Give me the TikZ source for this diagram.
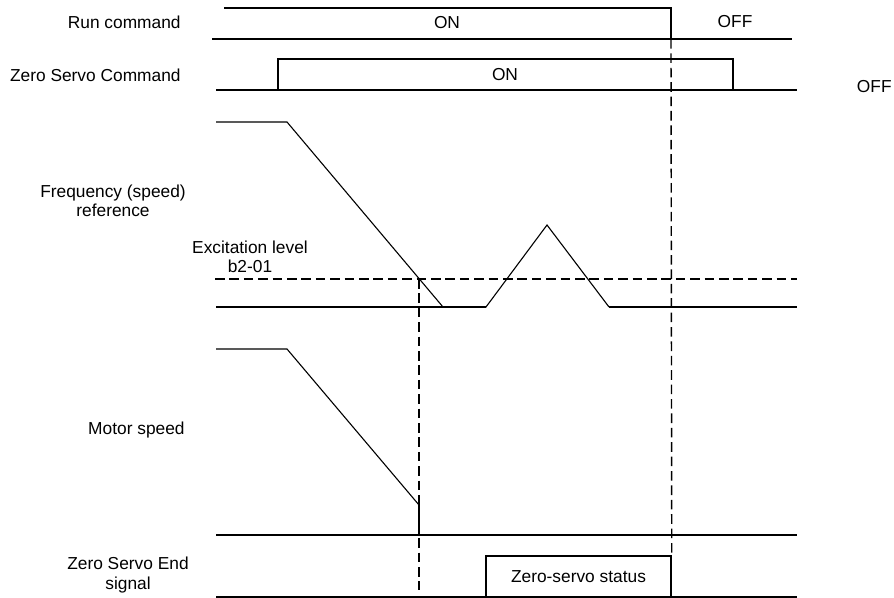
\documentclass[tikz,border=0pt]{standalone}
\usepackage{fontspec}
\setsansfont{Liberation Sans}
\usetikzlibrary{positioning}

\begin{document}
\begin{tikzpicture}[
    x=0.5bp, y=-0.5bp,
    font=\sffamily\fontsize{8.7}{9.6}\selectfont,
    lbl/.style={inner sep=0pt, align=center},
    sig/.style={draw=black, line width=0.75bp},
    ramp/.style={draw=black, line width=0.55bp},
    heavy/.style={draw=black, line width=1.05bp},
    guide/.style={draw=black, line width=0.7bp, dash pattern=on 4.8bp off 2.4bp},
    statbox/.style={
        draw=black, line width=0.75bp, inner sep=0pt,
        minimum width=92.5bp, minimum height=20.5bp, align=center,
    },
]
\useasboundingbox (0,0) rectangle (894,598);

% ── Row labels ───────────────────────────────────────────────────────
\node[lbl, anchor=east] (runlbl) at (181,22)  {Run command};
\node[lbl, anchor=east] (zsclbl) at (181,75)  {Zero Servo Command};
\node[lbl]              (frqlbl) at (113,201) {Frequency (speed)\\reference};
\node[lbl]              (exclbl) at (250,257) {Excitation level\\b2-01};
\node[lbl, anchor=east] (motlbl) at (185,430) {Motor speed};
\node[lbl]              (endlbl) at (128,575) {Zero Servo End\\signal};

% ── Run command ──────────────────────────────────────────────────────
\draw[sig] (224,8) -- (671,8) -- (671,39);
\draw[sig] (212,39) -- (671,39);
\draw[heavy] (671,39) -- (792,39);
\node[lbl] (runon)  at (447,23) {ON};
\node[lbl] (runoff) at (735,22) {OFF};

% ── Zero servo command ───────────────────────────────────────────────
\draw[sig] (216,90) -- (278,90) -- (278,59) -- (733,59) -- (733,90) -- (797,90);
\draw[sig] (278,90) -- (733,90);
\node[lbl] (zscon) at (505,75) {ON};
\node[lbl, anchor=east] (zscoff) at (892,87) {OFF};

% ── Frequency (speed) reference ──────────────────────────────────────
\draw[ramp] (216,122) -- (287,122) -- (443,307) -- (486,307) -- (547,225) -- (609,307);
\draw[ramp] (216,307) -- (443,307);
\draw[heavy] (443,307) -- (486,307);
\draw[heavy] (609,307) -- (797,307);
\draw[guide] (215,279) -- (797,279);

% ── Motor speed ──────────────────────────────────────────────────────
\draw[ramp] (216,349) -- (287,349) -- (419,505);
\draw[heavy] (419,505) -- (419,535);
\draw[sig] (216,535) -- (419,535);
\draw[heavy] (419,535) -- (797,535);

% ── Zero servo end signal ────────────────────────────────────────────
\node[statbox] (zss) at (578.5,576.5) {Zero-servo status};
\draw[heavy] (216,597) -- (797,597);

% ── Timing guides ────────────────────────────────────────────────────
\coordinate (stop) at (671,39);
\coordinate (hit)  at (419,279);
\coordinate (hitend) at (419,590);
\draw[guide] (stop) -- (zss.north east);
\draw[guide] (hit) -- (hitend);

\end{tikzpicture}
\end{document}
